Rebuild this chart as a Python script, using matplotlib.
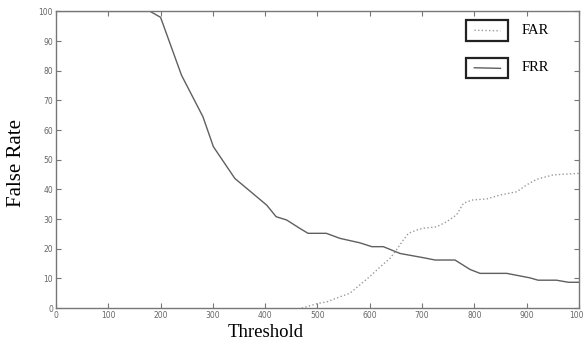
import matplotlib.pyplot as plt
from matplotlib.patches import Rectangle
from matplotlib import font_manager

# FRR (solid)
frr_x = [0, 180, 200, 240, 281, 301, 342, 403, 421, 441, 466, 482, 517, 543,
         581, 604, 626, 658, 702, 725, 763, 792, 811, 862, 906, 922, 957, 980, 1000]
frr_y = [100, 100, 98, 78.5, 64.5, 54.4, 43.7, 34.7, 30.8, 29.7, 26.9, 25.2, 25.2, 23.5,
         22.0, 20.7, 20.7, 18.4, 17.0, 16.2, 16.2, 13.0, 11.7, 11.7, 10.2, 9.4, 9.4, 8.7, 8.7]

# FAR (dotted)
far_x = [470, 502, 518, 543, 562, 581, 600, 620, 639, 651, 664, 674, 690, 702, 728,
         747, 766, 779, 795, 824, 849, 881, 900, 919, 951, 1000]
far_y = [0, 1.6, 2.1, 3.8, 5.0, 7.8, 10.6, 13.9, 16.8, 19.6, 22.9, 25.2, 26.3, 26.9, 27.4,
         29.1, 31.4, 35.3, 36.4, 36.8, 38.1, 39.2, 41.5, 43.4, 44.9, 45.4]

x_ticks = list(range(0, 1001, 100))
y_ticks = list(range(0, 101, 10))

names = {f.name for f in font_manager.fontManager.ttflist}
tick_font = "Liberation Sans Narrow" if "Liberation Sans Narrow" in names else "DejaVu Sans"
serif = ["Liberation Serif", "DejaVu Serif"]

fig = plt.figure(figsize=(5.83, 3.45), dpi=100)
ax = fig.add_axes([0.096, 0.107, 0.897, 0.860])

ax.plot(frr_x, frr_y, color="#5f5f5f", linewidth=1.0)
ax.plot(far_x, far_y, color="#9a9a9a", linewidth=1.0, linestyle=":")

ax.set_xlim(0, 1000)
ax.set_ylim(0, 100)
ax.set_xticks(x_ticks)
ax.set_yticks(y_ticks)
ax.tick_params(direction="in", length=3.5, width=0.8, color="#777777",
               top=True, right=True, labelsize=5.5, labelcolor="#666666", pad=2)
for lab in ax.get_xticklabels() + ax.get_yticklabels():
    lab.set_family(tick_font)
for s in ax.spines.values():
    s.set_color("#777777")
    s.set_linewidth(1.0)

ax.set_xlabel("Threshold", family=serif, fontsize=13.5)
ax.xaxis.set_label_coords(0.40, -0.055)
ax.set_ylabel("False Rate", family=serif, fontsize=15)
ax.yaxis.set_label_coords(-0.057, 0.49)

# separate legend boxes, as in the original
boxes = [(0.9015, "FAR", ":", "#9a9a9a"), (0.775, "FRR", "-", "#5f5f5f")]
for y0, name, ls, col in boxes:
    ax.add_patch(Rectangle((0.785, y0), 0.08, 0.0695, transform=ax.transAxes,
                           fill=False, edgecolor="#222222", linewidth=1.6, clip_on=False))
    ax.plot([0.80, 0.85], [y0 + 0.035, y0 + 0.033], transform=ax.transAxes,
            color=col, linestyle=ls, linewidth=1.0)
    ax.text(0.89, y0 + 0.035, name, transform=ax.transAxes, family=serif,
            fontsize=10.5, va="center", ha="left")

fig.savefig("out.png", dpi=100)
